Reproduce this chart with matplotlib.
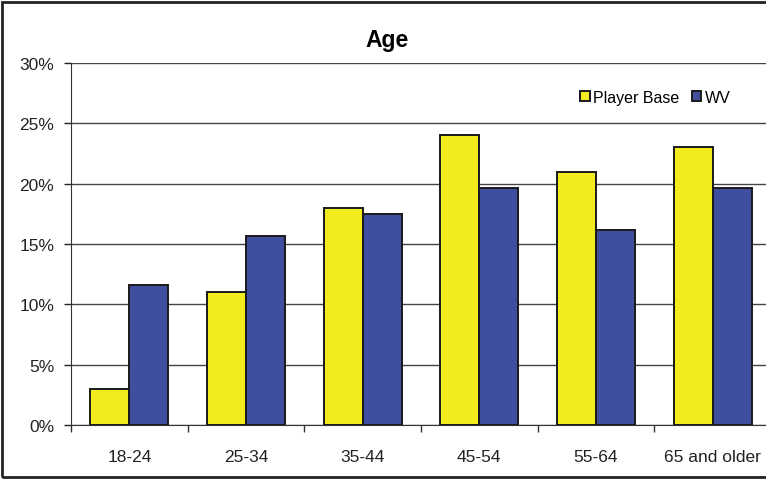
import matplotlib
matplotlib.use("Agg")
import matplotlib.pyplot as plt
import numpy as np
from matplotlib.patches import Rectangle
from matplotlib.ticker import FuncFormatter, FixedLocator

categories = ["18-24", "25-34", "35-44", "45-54", "55-64", "65 and older"]
player_base = [3.0, 11.0, 18.0, 24.0, 21.0, 23.0]
wv = [11.6, 15.7, 17.5, 19.6, 16.2, 19.6]
series_names = ["Player Base", "WV"]
yticks = [0, 5, 10, 15, 20, 25, 30]

plt.rcParams['font.family'] = ['Liberation Sans', 'DejaVu Sans']

fig = plt.figure(figsize=(7.66, 4.81), dpi=100)
ax = fig.add_axes([71/766, 1-426/481, 700/766, (426-64)/481])

x = np.arange(len(categories))
w = 1/3
yellow = "#F2EC1E"
blue = "#3F4E9E"
edge = "#1a1a1a"
ax.bar(x - w/2, player_base, width=w, color=yellow, edgecolor=edge, linewidth=1.4, label=series_names[0], zorder=3)
ax.bar(x + w/2, wv, width=w, color=blue, edgecolor=edge, linewidth=1.4, label=series_names[1], zorder=3)

ax.set_xlim(-0.5, len(categories) - 0.5)
ax.set_ylim(0, 30)
ax.set_yticks(yticks)
ax.yaxis.set_major_formatter(FuncFormatter(lambda v, p: f"{int(v)}%"))
ax.set_xticks(x)
ax.set_xticklabels(categories)
ax.xaxis.set_minor_locator(FixedLocator(np.arange(-0.5, len(categories), 1.0)))
ax.tick_params(axis='x', which='major', length=0, pad=17, labelsize=12.5, colors="#222222")
ax.tick_params(axis='x', which='minor', length=5, direction='out', width=1, color="#333333")
ax.tick_params(axis='y', length=5, direction='out', width=1, labelsize=12.5, pad=7, colors="#222222")
ax.yaxis.grid(True, color="#444444", linewidth=1, zorder=0)
for s in ["top", "right"]:
    ax.spines[s].set_visible(False)
ax.spines["left"].set_color("#333333")
ax.spines["bottom"].set_color("#333333")
ax.set_axisbelow(True)

fig.text(387/766, 1-40/481, "Age", ha="center", va="center", fontsize=16.5, fontweight="bold")

leg = ax.legend(loc="upper left", bbox_to_anchor=(572/766, 1-83/481), bbox_transform=fig.transFigure,
                ncol=2, frameon=False, fontsize=11.5, handlelength=0.6, handleheight=0.6,
                handletextpad=0.2, columnspacing=0.8, borderpad=0)

fig.patches.append(Rectangle((2/766, 3/481), 1.0, 1 - 6/481, transform=fig.transFigure,
                             fill=False, edgecolor="#222222", linewidth=2))

fig.savefig("out.png", dpi=100)
